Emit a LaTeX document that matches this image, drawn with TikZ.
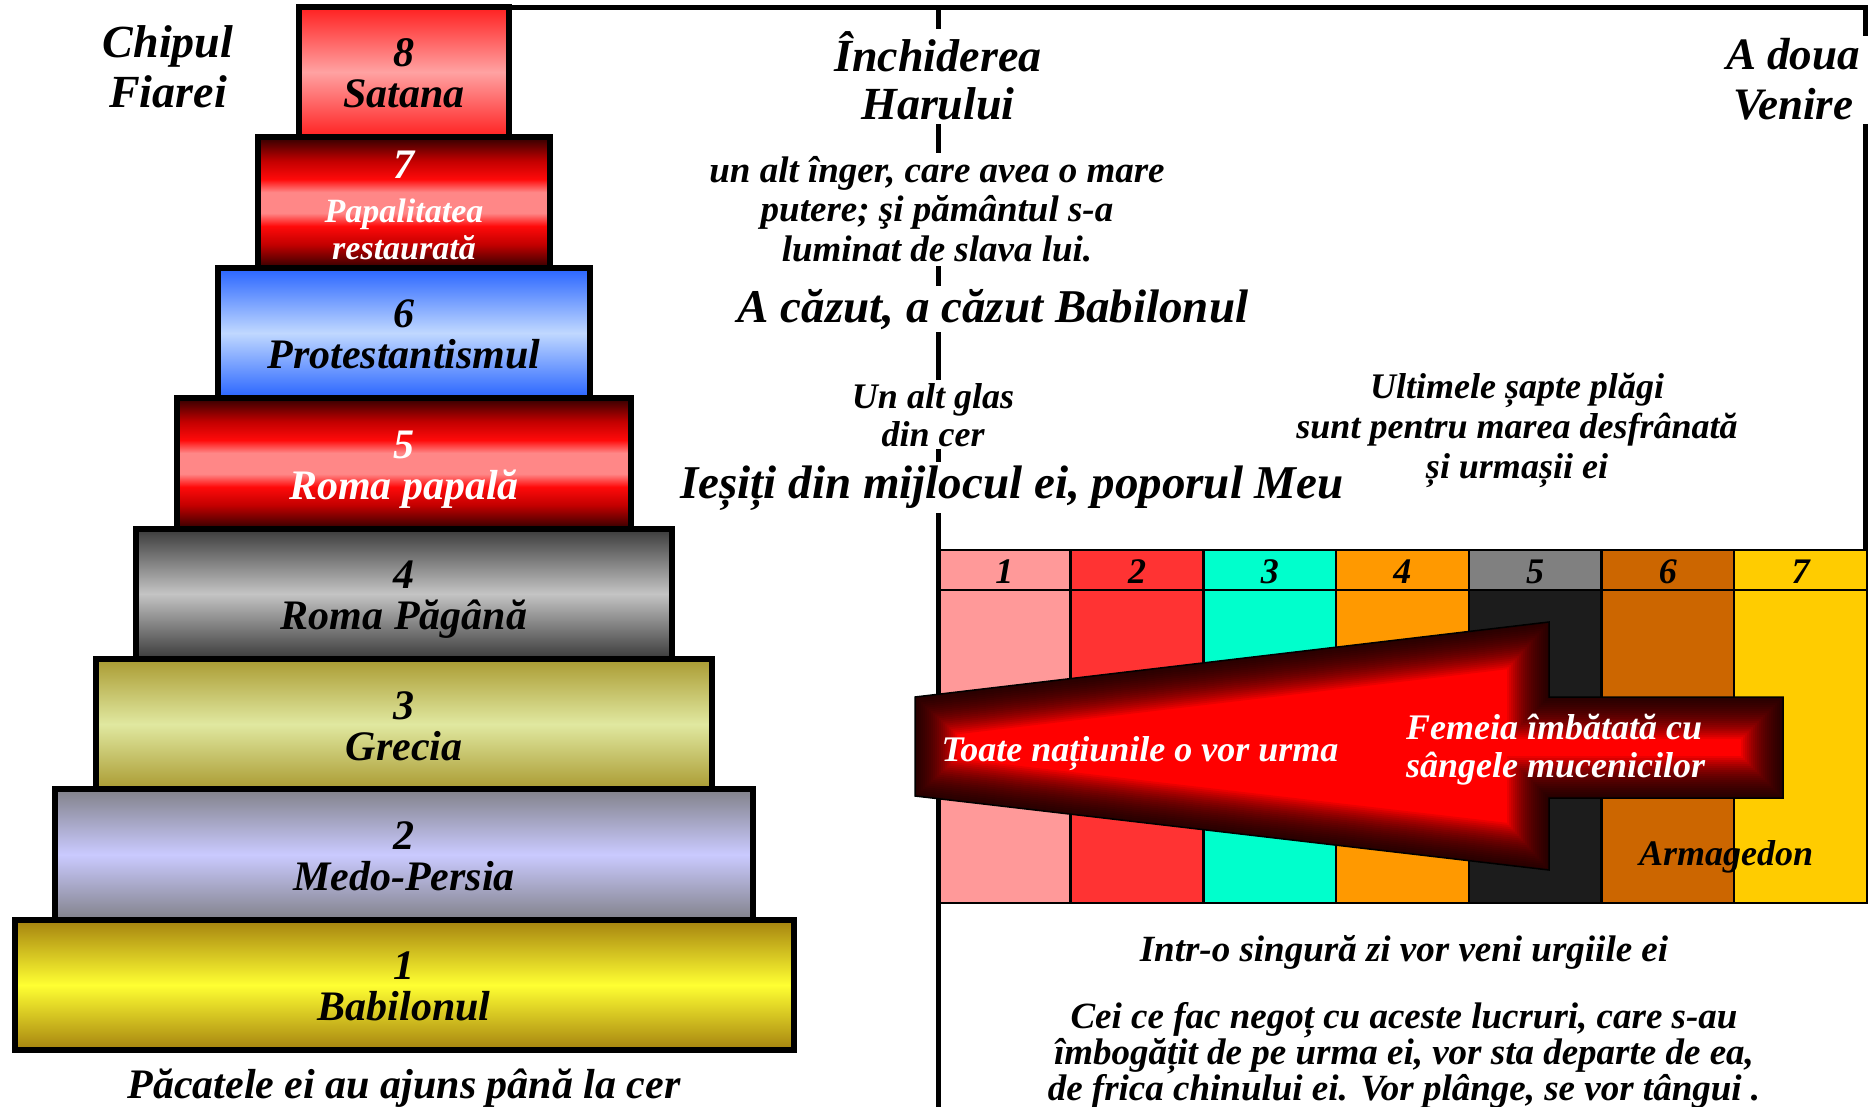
\documentclass[tikz,border=0pt]{standalone}
\usepackage{fontspec}
\setmainfont{Liberation Serif}
\usetikzlibrary{calc}
% tier colours
\definecolor{s8top}{RGB}{255,32,32}
\definecolor{s8mid}{RGB}{255,162,162}
\definecolor{s6top}{RGB}{40,100,255}
\definecolor{s6mid}{RGB}{192,216,255}
\definecolor{s4top}{RGB}{58,58,58}
\definecolor{s4mid}{RGB}{196,196,196}
\definecolor{s3top}{RGB}{170,155,50}
\definecolor{s3mid}{RGB}{224,232,160}
\definecolor{s2top}{RGB}{130,130,138}
\definecolor{s2mid}{RGB}{202,202,255}
\definecolor{s1top}{RGB}{165,130,15}
\definecolor{s1mid}{RGB}{255,255,50}
\definecolor{rdark}{RGB}{50,0,0}
\definecolor{rmid}{RGB}{195,0,0}
\definecolor{rbright}{RGB}{255,10,10}
\definecolor{rpink}{RGB}{255,135,135}
% plague colours
\definecolor{p1}{RGB}{255,153,153}
\definecolor{p2}{RGB}{255,51,51}
\definecolor{p3}{RGB}{0,255,204}
\definecolor{p4}{RGB}{255,153,0}
\definecolor{p5}{RGB}{128,128,128}
\definecolor{p5b}{RGB}{28,28,28}
\definecolor{p6}{RGB}{204,102,0}
\definecolor{p7}{RGB}{255,204,0}
\definecolor{arrowred}{RGB}{255,0,0}
\newcommand{\tiershade}[3]{\pgfdeclareverticalshading{#1}{100bp}{color(0bp)=(#2); color(25bp)=(#2); color(50bp)=(#3); color(75bp)=(#2); color(100bp)=(#2)}}
\tiershade{satana}{s8top}{s8mid}
\tiershade{prot}{s6top}{s6mid}
\tiershade{pagan}{s4top}{s4mid}
\tiershade{grec}{s3top}{s3mid}
\tiershade{medo}{s2top}{s2mid}
\tiershade{babil}{s1top}{s1mid}
\pgfdeclareverticalshading{papal}{100bp}{color(0bp)=(rdark); color(25bp)=(rdark); color(34bp)=(rmid); color(41bp)=(rbright); color(46bp)=(rpink); color(54bp)=(rpink); color(59bp)=(rbright); color(66bp)=(rmid); color(75bp)=(rdark); color(100bp)=(rdark)}
\newcommand{\arrowpath}{(a1) -- (a2) -- (a3) -- (a4) -- (a5) -- (a6) -- (a7) -- (a8) -- cycle}

\begin{document}
\begin{tikzpicture}[x=1pt,y=-1pt,
    bi/.style args={#1/#2}{font=\bfseries\itshape\fontsize{#1}{#2}\selectfont},
    tier/.style={draw=black,line width=6pt,inner sep=0pt,shade},
    caption/.style={anchor=base,align=center,inner sep=0pt},
    mask/.style={caption,fill=white,inner xsep=8pt,inner ysep=3pt},
    frame/.style={line width=5pt},
    cell/.style={draw=black,line width=2.5pt}]
  \useasboundingbox (0,0) rectangle (1868,1107);
  \fill[white] (0,0) rectangle (1868,1107);

  % pyramid of kingdoms
  \foreach \k/\shd in {8/satana,7/papal,6/prot,5/papal,4/pagan,3/grec,2/medo,1/babil}{
    \pgfmathsetmacro\hw{389.5-40.64*(\k-1)}
    \pgfmathsetmacro\ty{7+(8-\k)*130.4}
    \node[tier,shading=\shd,minimum width=2*\hw,minimum height=130.4] (tier\k) at (404,\ty+65.2) {};
  }
  \foreach \k/\lbl/\tc in {8/Satana/black,6/Protestantismul/black,5/{Roma papală}/white,
      4/{Roma Păgână}/black,3/Grecia/black,2/Medo-Persia/black,1/Babilonul/black}{
    \node[caption,bi=42/42,text=\tc] (num\k) at ($(tier\k.north)+(0,63)$) {\k};
    \node[caption,bi=42/42,text=\tc] (name\k) at ($(tier\k.north)+(0,104)$) {\lbl};
  }
  % multi-line nodes sit on their last baseline
  \node[caption,bi=42/42,text=white] (num7) at (404,179) {7};
  \node[caption,bi=34/37,text=white] (name7) at (404,260) {Papalitatea\\restaurată};
  \node[caption,bi=46/50] (chipul) at (168,108) {Chipul\\Fiarei};
  \node[caption,bi=42/42] (pacatele) at (404,1098) {Păcatele ei au ajuns până la cer};

  % seven plagues
  \foreach \i/\hc/\bc in {1/p1/p1,2/p2/p2,3/p3/p3,4/p4/p4,5/p5/p5b,6/p6/p6,7/p7/p7}{
    \pgfmathsetmacro\xl{938+(\i-1)*132.7}
    \pgfmathsetmacro\xr{938+\i*132.7}
    \fill[\hc] (\xl,550) rectangle (\xr,590);
    \fill[\bc] (\xl,590) rectangle (\xr,903);
    \draw[cell] (\xl,550) rectangle (\xr,590) (\xl,590) rectangle (\xr,903);
    \node[caption,bi=36/36] (plaga\i) at ({(\xl+\xr)/2},583) {\i};
  }

  % time line
  \coordinate (topR) at (1868,7.5);
  \coordinate (midT) at (938,7.5);
  \coordinate (midB) at (938,1110);
  \coordinate (rightT) at (1865.5,7.5);
  \coordinate (rightB) at (1865.5,550);
  \draw[frame] (tier8.north east |- topR) -- (topR);
  \draw[frame] (midT) -- (midB);
  \draw[frame] (rightT) -- (rightB);

  \node[mask,bi=46/48] (inchiderea) at (938,120) {Închiderea\\Harului};
  \node[mask,bi=45/50] (venire) at (1793,120) {A doua\\Venire};
  \node[mask,bi=37/40] (inger) at (937,262) {un alt înger, care avea o mare\\putere; şi pământul s-a\\luminat de slava lui.};
  \node[mask,bi=47/47] (cazut) at (993,322) {A căzut, a căzut Babilonul};
  \node[mask,bi=36/38] (glas) at (933,446) {Un alt glas\\din cer};
  \node[mask,bi=47/47] (iesiti) at (1012,498) {Ieșiți din mijlocul ei, poporul Meu};
  \node[caption,bi=36/40] (plagi) at (1517,478) {Ultimele șapte plăgi\\sunt pentru marea desfrânată\\și urmașii ei};

  % the beast arrow
  \coordinate (a1) at (915,697);
  \coordinate (a2) at (1549,622);
  \coordinate (a3) at (1549,697);
  \coordinate (a4) at (1783,697);
  \coordinate (a5) at (1783,798);
  \coordinate (a6) at (1549,798);
  \coordinate (a7) at (1549,870);
  \coordinate (a8) at (915,796);
  \begin{scope}
    \clip \arrowpath;
    \fill[arrowred] \arrowpath;
    \foreach \w in {4,8,...,84}
      \draw[black,line width=\w pt,opacity=0.08,line join=miter] \arrowpath;
  \end{scope}
  \draw[line width=1.5pt,line join=miter] \arrowpath;
  \node[caption,bi=36/36,text=white] (toate) at (1140,761) {Toate națiunile o vor urma};
  \node[caption,bi=36/38,text=white,anchor=base west,align=left] (femeia) at (1406,777) {Femeia îmbătată cu\\sângele mucenicilor};
  \node[caption,bi=36/36] (armagedon) at (1726,865) {Armagedon};

  \node[caption,bi=37/37] (ziua) at (1404,961) {Intr-o singură zi vor veni urgiile ei};
  \node[caption,bi=37/36] (negot) at (1404,1100) {Cei ce fac negoț cu aceste lucruri, care s-au\\îmbogățit de pe urma ei, vor sta departe de ea,\\de frica chinului ei. Vor plânge, se vor tângui .};
\end{tikzpicture}
\end{document}
